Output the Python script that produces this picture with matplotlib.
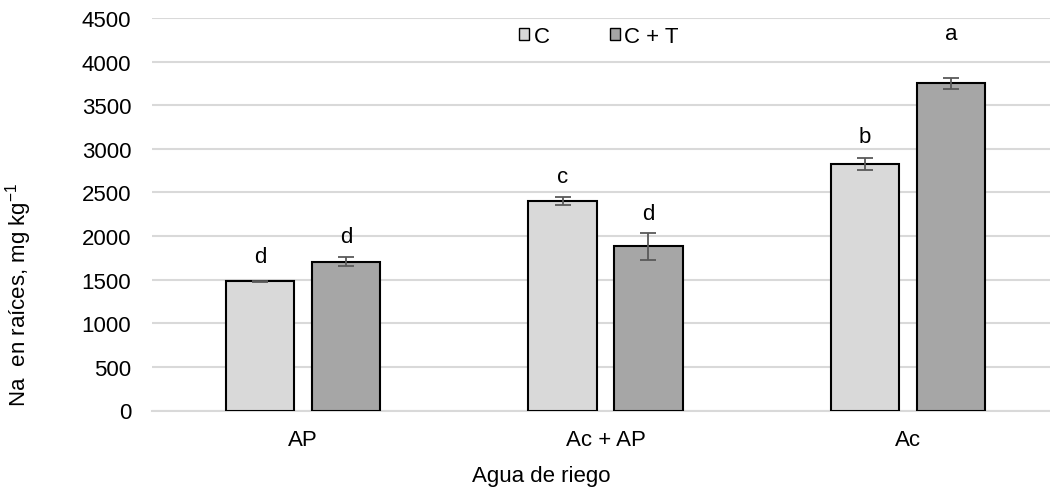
import matplotlib
matplotlib.use("Agg")
import matplotlib.pyplot as plt
import numpy as np

plt.rcParams['font.family'] = ['Liberation Sans', 'DejaVu Sans']
plt.rcParams['mathtext.fontset'] = 'custom'
plt.rcParams['mathtext.rm'] = 'Liberation Sans'
plt.rcParams['mathtext.it'] = 'Liberation Sans:italic'

# Data
categories = ["AP", "Ac + AP", "Ac"]
series_names = ["C", "C + T"]
values_c = [1480, 2400, 2827]
values_ct = [1705, 1881, 3752]
err_c = [10, 45, 69]
err_ct = [50, 150, 65]
letters_c = ["d", "c", "b"]
letters_ct = ["d", "d", "a"]
yticks = [0, 500, 1000, 1500, 2000, 2500, 3000, 3500, 4000, 4500]

# Styling
color_c = "#d9d9d9"
color_ct = "#a6a6a6"
edge = "#000000"
err_color = "#595959"
fs = 16

fig = plt.figure(figsize=(10.5, 4.89), dpi=100)
W, H = 1050, 489
ax = fig.add_axes([152 / W, 77.5 / H, 907 / W, 392.5 / H])

x = np.arange(len(categories))
width = 0.226
offset = 0.142

ax.bar(x - offset, values_c, width, color=color_c, edgecolor=edge,
       linewidth=1.5, label=series_names[0], zorder=3)
ax.bar(x + offset, values_ct, width, color=color_ct, edgecolor=edge,
       linewidth=1.5, label=series_names[1], zorder=3)

ax.errorbar(x - offset, values_c, yerr=err_c, fmt='none', ecolor=err_color,
            elinewidth=1.3, capsize=6, capthick=1.3, zorder=4)
ax.errorbar(x + offset, values_ct, yerr=err_ct, fmt='none', ecolor=err_color,
            elinewidth=1.3, capsize=6, capthick=1.3, zorder=4)

# Significance letters above the error bars (offsets in pixels -> points)
pt = 0.72
off_c = [24, 21, 21]
off_ct = [21, 20, 44]
for i in range(len(categories)):
    ax.annotate(letters_c[i], (x[i] - offset, values_c[i] + err_c[i]),
                xytext=(0, off_c[i] * pt), textcoords='offset points',
                ha='center', va='center', fontsize=fs)
    ax.annotate(letters_ct[i], (x[i] + offset, values_ct[i] + err_ct[i]),
                xytext=(0, off_ct[i] * pt), textcoords='offset points',
                ha='center', va='center', fontsize=fs)

ax.set_xlim(-0.5, 2.5)
ax.set_ylim(0, 4500)
ax.set_yticks(yticks)
ax.set_yticklabels([str(v) for v in yticks], fontsize=fs)
ax.set_xticks(x)
ax.set_xticklabels(categories, fontsize=fs)
ax.tick_params(axis='y', length=0, pad=15)
ax.tick_params(axis='x', length=0, pad=13)

ax.yaxis.grid(True, color="#d9d9d9", linewidth=1.5, zorder=0)
ax.set_axisbelow(True)
for s in ["top", "right", "left"]:
    ax.spines[s].set_visible(False)
ax.spines["bottom"].set_color("#d9d9d9")
ax.spines["bottom"].set_linewidth(1.5)

ax.set_xlabel("Agua de riego", fontsize=fs)
ax.xaxis.set_label_coords((541 - 152) / 907, (489 - 466 - 77.5) / 392.5)
ax.set_ylabel("Na  en raíces, mg kg$^{-1}$", fontsize=fs)
ax.yaxis.set_label_coords((34 - 152) / 907, (489 - 295 - 77.5) / 392.5)

leg = ax.legend(loc='center', bbox_to_anchor=((599 - 152) / 907, 0.954), ncol=2,
                frameon=False, fontsize=fs, handlelength=0.45, handleheight=0.45,
                handletextpad=0.2, columnspacing=2.7)
for h in leg.legend_handles:
    h.set_linewidth(1.0)

fig.savefig("out.png", dpi=100)
